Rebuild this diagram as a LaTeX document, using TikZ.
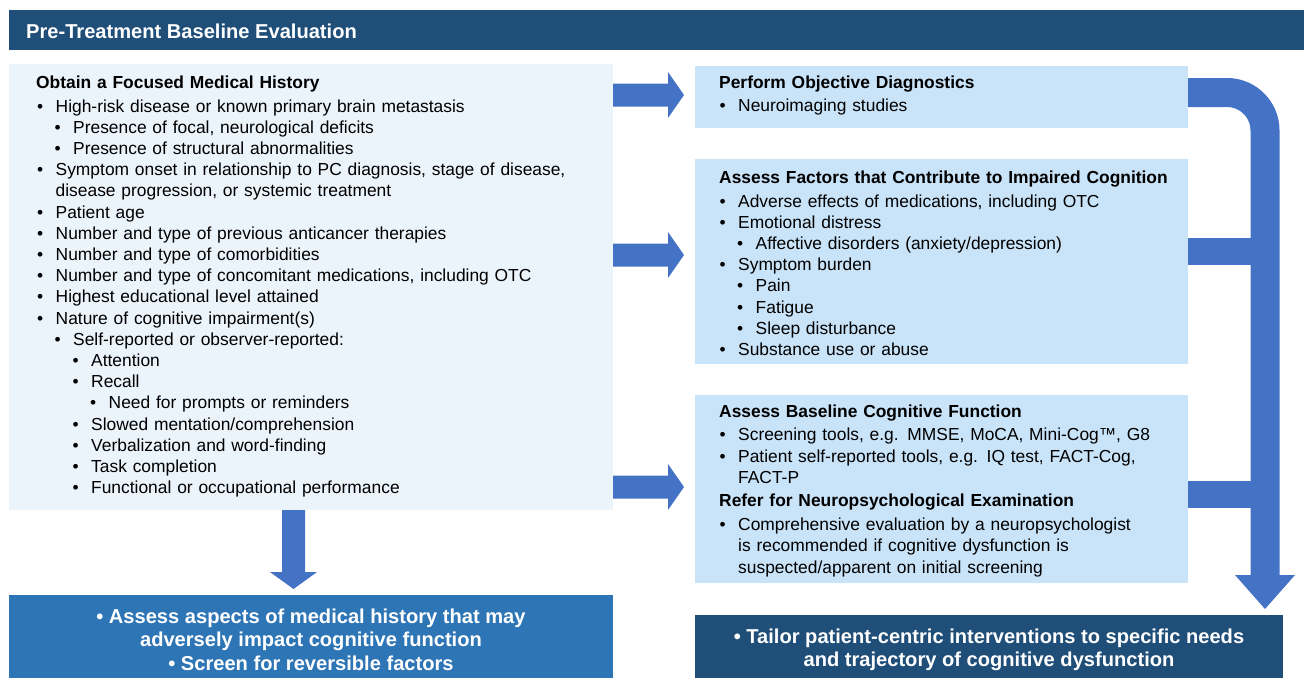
\documentclass[tikz,border=0pt]{standalone}
\usepackage{fontspec}
\setmainfont{Liberation Sans}
\usetikzlibrary{calc}
\definecolor{hdrblue}{HTML}{1F4E79}
\definecolor{midblue}{HTML}{2E75B6}
\definecolor{paleblue}{HTML}{EBF3FB}
\definecolor{lightblue}{HTML}{C9E3F8}
\definecolor{arrowblue}{HTML}{4472C4}
\setlength{\parindent}{0pt}
% bulleted line: text starts #1 from the left margin, bullet hangs before it
\newcommand\itm[2]{\hspace*{#1}\llap{•\hspace{12.5pt}}#2}
\newcommand\cont[2]{\hspace*{#1}#2}
% block arrow pointing right, from #1 to #2 (same height)
\newcommand\rightblock[2]{%
  \fill[arrowblue] let \p1=(#1), \p2=(#2) in
    ({\x1},{\y1+11.5pt}) -- ({\x2-16pt},{\y1+11.5pt}) -- ({\x2-16pt},{\y1+23pt}) --
    ({\x2},{\y1}) -- ({\x2-16pt},{\y1-23pt}) -- ({\x2-16pt},{\y1-11.5pt}) --
    ({\x1},{\y1-11.5pt}) -- cycle;}
% block arrow pointing down, from #1 to #2 (same x)
\newcommand\downblock[2]{%
  \fill[arrowblue] let \p1=(#1), \p2=(#2) in
    ({\x1-11.5pt},{\y1}) -- ({\x1-11.5pt},{\y2+17pt}) -- ({\x1-23.5pt},{\y2+17pt}) --
    ({\x1},{\y2}) -- ({\x1+23.5pt},{\y2+17pt}) -- ({\x1+11.5pt},{\y2+17pt}) --
    ({\x1+11.5pt},{\y1}) -- cycle;}
\begin{document}
\begin{tikzpicture}[x=1pt,y=-1pt,
  panel/.style={anchor=north west, inner sep=0pt, outer sep=0pt},
  body/.style={anchor=north west, inner sep=0pt, align=left,
    font=\fontsize{17.4}{21.2}\selectfont},
  outcome/.style={anchor=north, inner sep=0pt, align=center, text=white,
    font=\bfseries\fontsize{20.1}{23.5}\selectfont},
]
\useasboundingbox (0,0) rectangle (1304,678);

% header bar
\node[panel, fill=hdrblue, minimum width=1295, minimum height=40] (header) at (9,10) {};
\node[anchor=base west, inner sep=0pt, text=white,
  font=\bfseries\fontsize{20.1}{24}\selectfont] (headertxt) at (26,38)
  {Pre-Treatment Baseline Evaluation};

% panels
\node[panel, fill=paleblue, minimum width=604, minimum height=446] (hist) at (9,64) {};
\node[panel, fill=lightblue, minimum width=493, minimum height=62] (diag) at (695,66) {};
\node[panel, fill=lightblue, minimum width=493, minimum height=205] (factors) at (695,159) {};
\node[panel, fill=lightblue, minimum width=493, minimum height=188] (baseline) at (695,395) {};
\node[panel, fill=midblue, minimum width=604, minimum height=83] (review) at (9,595) {};
\node[panel, fill=hdrblue, minimum width=588, minimum height=63] (tailor) at (695,615) {};

% panel texts
\node[body, text width=590] (histtxt) at (36,74) {%
\rule{0pt}{14pt}\textbf{Obtain a Focused Medical History}\\[2.6pt]
\itm{19.5pt}{High-risk disease or known primary brain metastasis}\\
\itm{37pt}{Presence of focal, neurological deficits}\\
\itm{37pt}{Presence of structural abnormalities}\\
\itm{19.5pt}{Symptom onset in relationship to PC diagnosis, stage of disease,}\\
\cont{19.5pt}{disease progression, or systemic treatment}\\
\itm{19.5pt}{Patient age}\\
\itm{19.5pt}{Number and type of previous anticancer therapies}\\
\itm{19.5pt}{Number and type of comorbidities}\\
\itm{19.5pt}{Number and type of concomitant medications, including OTC}\\
\itm{19.5pt}{Highest educational level attained}\\
\itm{19.5pt}{Nature of cognitive impairment(s)}\\
\itm{37pt}{Self-reported or observer-reported:}\\
\itm{55pt}{Attention}\\
\itm{55pt}{Recall}\\
\itm{72.5pt}{Need for prompts or reminders}\\
\itm{55pt}{Slowed mentation/comprehension}\\
\itm{55pt}{Verbalization and word-finding}\\
\itm{55pt}{Task completion}\\
\itm{55pt}{Functional or occupational performance}};

\node[body, text width=465] (diagtxt) at (719,74) {%
\rule{0pt}{14pt}\textbf{Perform Objective Diagnostics}\\[2pt]
\itm{19pt}{Neuroimaging studies}};

\node[body, text width=465] (factorstxt) at (719,169) {%
\rule{0pt}{14pt}\textbf{Assess Factors that Contribute to Impaired Cognition}\\[2.6pt]
\itm{19pt}{Adverse effects of medications, including OTC}\\
\itm{19pt}{Emotional distress}\\
\itm{36.5pt}{Affective disorders (anxiety/depression)}\\
\itm{19pt}{Symptom burden}\\
\itm{36.5pt}{Pain}\\
\itm{36.5pt}{Fatigue}\\
\itm{36.5pt}{Sleep disturbance}\\
\itm{19pt}{Substance use or abuse}};

\node[body, text width=465] (baselinetxt) at (719,403) {%
\rule{0pt}{14pt}\textbf{Assess Baseline Cognitive Function}\\[2.5pt]
\itm{19pt}{Screening tools, e.g. MMSE, MoCA, Mini-Cog™, G8}\\
\itm{19pt}{Patient self-reported tools, e.g. IQ test, FACT-Cog,}\\
\cont{19pt}{FACT-P}\\[2.4pt]
\textbf{Refer for Neuropsychological Examination}\\[2.5pt]
\itm{19pt}{Comprehensive evaluation by a neuropsychologist}\\
\cont{19pt}{is recommended if cognitive dysfunction is}\\
\cont{19pt}{suspected/apparent on initial screening}};

\node[outcome] (reviewtxt) at (311,608) {%
\rule{0pt}{15pt}• Assess aspects of medical history that may\\
adversely impact cognitive function\\
• Screen for reversible factors};

\node[outcome] (tailortxt) at (989,628) {%
\rule{0pt}{15pt}• Tailor patient-centric interventions to specific needs\\
and trajectory of cognitive dysfunction};

% arrows from the history panel
\coordinate (r1s) at (hist.east |- 0,95);
\coordinate (r1e) at ($(diag.west |- 0,95)+(-11,0)$);
\coordinate (r2s) at (hist.east |- 0,255);
\coordinate (r2e) at ($(factors.west |- 0,255)+(-11,0)$);
\coordinate (r3s) at (hist.east |- 0,487);
\coordinate (r3e) at ($(baseline.west |- 0,487)+(-11,0)$);
\rightblock{r1s}{r1e}
\rightblock{r2s}{r2e}
\rightblock{r3s}{r3e}

\coordinate (d1s) at (hist.south -| 293.5,0);
\coordinate (d1e) at ($(review.north -| 293.5,0)+(0,-6)$);
\downblock{d1s}{d1e}

% collecting arrow on the right
\coordinate (bend) at (1265,92.5);
\coordinate (headbase) at (1265,575);
\coordinate (tip) at ($(tailor.north -| 1265,0)+(0,-6)$);
\draw[arrowblue, line width=29pt, rounded corners=38pt]
  (diag.east |- bend) -- (bend) -- (headbase);
\draw[arrowblue, line width=27pt] (factors.east |- 0,251.5) -- (1266,251.5);
\draw[arrowblue, line width=27pt] (baseline.east |- 0,494.5) -- (1266,494.5);
\fill[arrowblue] ($(headbase)+(-30,0)$) -- ($(headbase)+(30,0)$) -- (tip) -- cycle;
\end{tikzpicture}
\end{document}
